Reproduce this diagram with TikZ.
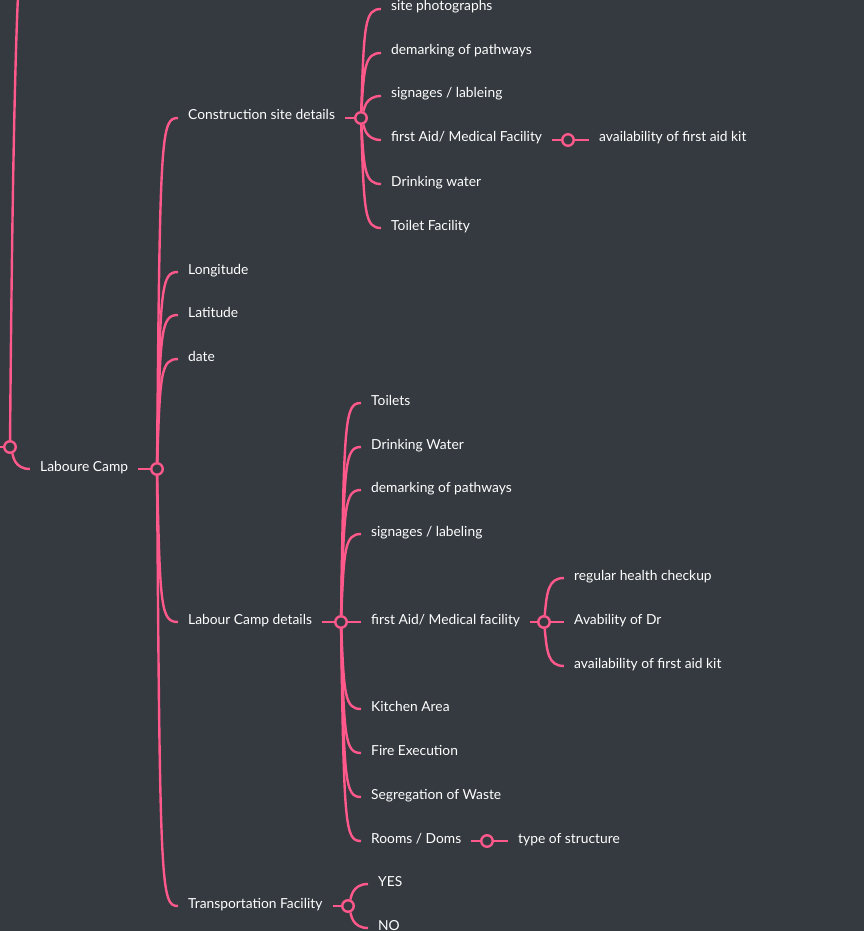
\documentclass[tikz,border=0pt]{standalone}
\usepackage{fontspec}
\setmainfont{Lato}
\usetikzlibrary{calc}

\definecolor{mapbg}{RGB}{53,58,64}
\definecolor{mappink}{RGB}{255,88,138}

\tikzset{
    topic/.style={anchor=west, inner xsep=9pt, inner ysep=0pt, text height=7pt, text depth=3pt,
        text=white, font=\fontsize{13.8}{16}\selectfont},
    knot/.style={circle, draw=mappink, fill=mapbg, line width=2.4pt, minimum size=11.5pt, inner sep=0pt},
    branch/.style={to path={.. controls ($(\tikztostart |- \tikztotarget)!14pt!(\tikztostart)+(3,0)$)
        and ($(\tikztostart |- \tikztotarget)+(4,0)$) .. (\tikztotarget)}}
}

\begin{document}
\begin{tikzpicture}[x=1pt, y=-1pt, line width=2.4pt, draw=mappink]
        \fill[mapbg] (0,0) rectangle (864,931);
        \useasboundingbox (0,0) rectangle (864,931);

        % root
        \node[knot] (root) at (10,447) {};
        \coordinate (rin) at (-4,447);
        \coordinate (rup) at (18,-4);
        \draw (rin) -- (root);
        \draw (root) .. controls (12,200) and (15,60) .. (rup);

        \node[topic] (camp) at (30,469) {Laboure Camp};
        \node[knot] (k0) at (157,469) {};
        \draw (root) to[branch] (camp.west);
        \draw (camp.east) -- (k0);

        % first level
        \node[topic] (site) at (178,118) {Construction site details};
        \node[topic] (lon) at (178,272) {Longitude};
        \node[topic] (lat) at (178,315) {Latitude};
        \node[topic] (date) at (178,359) {date};
        \node[topic] (lcd) at (178,622) {Labour Camp details};
        \node[topic] (trans) at (178,906) {Transportation Facility};
        \draw (k0) to[branch] (site.west);
        \draw (k0) to[branch] (lon.west);
        \draw (k0) to[branch] (lat.west);
        \draw (k0) to[branch] (date.west);
        \draw (k0) to[branch] (lcd.west);
        \draw (k0) to[branch] (trans.west);

        % construction site details
        \node[knot] (k1) at (361,118) {};
        \draw (site.east) -- (k1);
        \node[topic] (s1) at (381,9) {site photographs};
        \node[topic] (s2) at (381,53) {demarking of pathways};
        \node[topic] (s3) at (381,96) {signages / lableing};
        \node[topic] (s4) at (381,140) {first Aid/ Medical Facility};
        \node[topic] (s5) at (381,184) {Drinking water};
        \node[topic] (s6) at (381,228) {Toilet Facility};
        \draw (k1) to[branch] (s1.west);
        \draw (k1) to[branch] (s2.west);
        \draw (k1) to[branch] (s3.west);
        \draw (k1) to[branch] (s4.west);
        \draw (k1) to[branch] (s5.west);
        \draw (k1) to[branch] (s6.west);

        \node[knot] (k2) at (568,140) {};
        \node[topic] (kit1) at (589,140) {availability of first aid kit};
        \draw (s4.east) -- (k2);
        \draw (k2) -- (kit1.west);

        % labour camp details
        \node[knot] (k3) at (341,622) {};
        \draw (lcd.east) -- (k3);
        \node[topic] (c1) at (361,403) {Toilets};
        \node[topic] (c2) at (361,447) {Drinking Water};
        \node[topic] (c3) at (361,490) {demarking of pathways};
        \node[topic] (c4) at (361,534) {signages / labeling};
        \node[topic] (c5) at (361,622) {first Aid/ Medical facility};
        \node[topic] (c6) at (361,709) {Kitchen Area};
        \node[topic] (c7) at (361,753) {Fire Execution};
        \node[topic] (c8) at (361,797) {Segregation of Waste};
        \node[topic] (c9) at (361,841) {Rooms / Doms};
        \draw (k3) to[branch] (c1.west);
        \draw (k3) to[branch] (c2.west);
        \draw (k3) to[branch] (c3.west);
        \draw (k3) to[branch] (c4.west);
        \draw (k3) -- (c5.west);
        \draw (k3) to[branch] (c6.west);
        \draw (k3) to[branch] (c7.west);
        \draw (k3) to[branch] (c8.west);
        \draw (k3) to[branch] (c9.west);

        \node[knot] (k4) at (544,622) {};
        \draw (c5.east) -- (k4);
        \node[topic] (m1) at (564,578) {regular health checkup};
        \node[topic] (m2) at (564,622) {Avability of Dr};
        \node[topic] (m3) at (564,666) {availability of first aid kit};
        \draw (k4) to[branch] (m1.west);
        \draw (k4) -- (m2.west);
        \draw (k4) to[branch] (m3.west);

        \node[knot] (k5) at (487,841) {};
        \node[topic] (struct) at (508,841) {type of structure};
        \draw (c9.east) -- (k5);
        \draw (k5) -- (struct.west);

        % transportation
        \node[knot] (k6) at (348,906) {};
        \draw (trans.east) -- (k6);
        \node[topic] (yes) at (368,884) {YES};
        \node[topic] (no) at (368,928) {NO};
        \draw (k6) to[branch] (yes.west);
        \draw (k6) to[branch] (no.west);
    \end{tikzpicture}
\end{document}
